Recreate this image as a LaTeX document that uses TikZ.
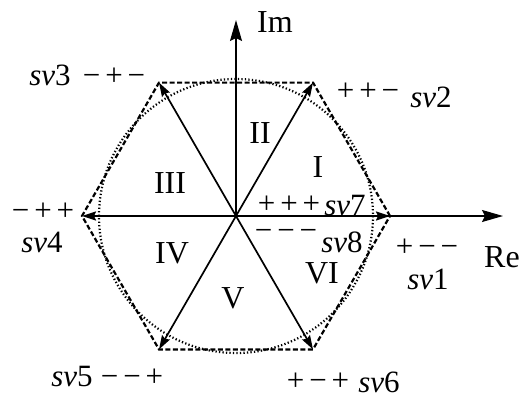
\documentclass[tikz,border=0pt]{standalone}
\usepackage{fontspec}
\setmainfont{Liberation Serif}
\usetikzlibrary{arrows.meta}
\newcommand{\sgn}[3]{#1\kern5pt#2\kern5pt#3}
\newcommand{\svl}[1]{\textit{sv}#1}
\begin{document}
\begin{tikzpicture}[x=1pt,y=-1pt,
  vec/.style={line width=1.7pt,-{Stealth[length=14pt,width=9pt,inset=2pt]}},
  axisarrow/.style={line width=1.5pt,-{Stealth[length=21pt,width=12pt,inset=3pt]}},
  hexedge/.style={line width=2.2pt,dash pattern=on 5pt off 2.5pt},
  circdot/.style={line width=2.2pt,dash pattern=on 1.3pt off 2.2pt},
  lbl/.style={font=\fontsize{31}{34}\selectfont,inner sep=0pt},
  sec/.style={font=\fontsize{32}{35}\selectfont,inner sep=0pt}]
\useasboundingbox[fill=white] (0,0) rectangle (525,399);
\coordinate (O) at (236,216);
\coordinate (v1) at (390,216);
\coordinate (v2) at (313,82.6);
\coordinate (v3) at (159,82.6);
\coordinate (v4) at (82,216);
\coordinate (v5) at (159,349.4);
\coordinate (v6) at (313,349.4);
\coordinate (imtip) at (236,20);
\coordinate (retip) at (503,216);
% circle
\draw[circdot] (O) circle[radius=137];
% hexagon
\draw[hexedge] (v1) -- (v2) -- (v3) -- (v4) -- (v5) -- (v6) -- cycle;
% axes
\draw[axisarrow] (O) -- (imtip);
\draw[axisarrow] (O) -- (retip);
% vectors
\foreach \v in {v1,v2,v3,v4,v5,v6} \draw[vec] (O) -- (\v);
% axis labels
\node[sec] (im) at (275,22) {Im};
\node[sec] (re) at (502,257) {Re};
% vertex labels
\node[lbl] (s3) at (50,75) {\svl{3}};
\node[lbl] (p3) at (114,77) {\sgn{−}{+}{−}};
\node[lbl] (p2) at (368,92) {\sgn{+}{+}{−}};
\node[lbl] (s2) at (431,97) {\svl{2}};
\node[lbl] (p4) at (43,212) {\sgn{−}{+}{+}};
\node[lbl] (s4) at (42,242) {\svl{4}};
\node[lbl] (s5) at (72,376) {\svl{5}};
\node[lbl] (p5) at (132,378) {\sgn{−}{−}{+}};
\node[lbl] (p6) at (318,382) {\sgn{+}{−}{+}};
\node[lbl] (s6) at (379,382) {\svl{6}};
\node[lbl] (p1) at (427,248) {\sgn{+}{−}{−}};
\node[lbl] (s1) at (428,279) {\svl{1}};
\node[lbl] (p7) at (289,205) {\sgn{+}{+}{+}};
\node[lbl] (s7) at (345,205) {\svl{7}};
\node[lbl] (p8) at (286,235) {\sgn{−}{−}{−}};
\node[lbl] (s8) at (342,242) {\svl{8}};
% sectors
\node[sec] (sI) at (318,167) {I};
\node[sec] (sII) at (260,133) {II};
\node[sec] (sIII) at (170,183) {III};
\node[sec] (sIV) at (172,253) {IV};
\node[sec] (sV) at (233,298) {V};
\node[sec] (sVI) at (322,273) {VI};
\end{tikzpicture}
\end{document}
